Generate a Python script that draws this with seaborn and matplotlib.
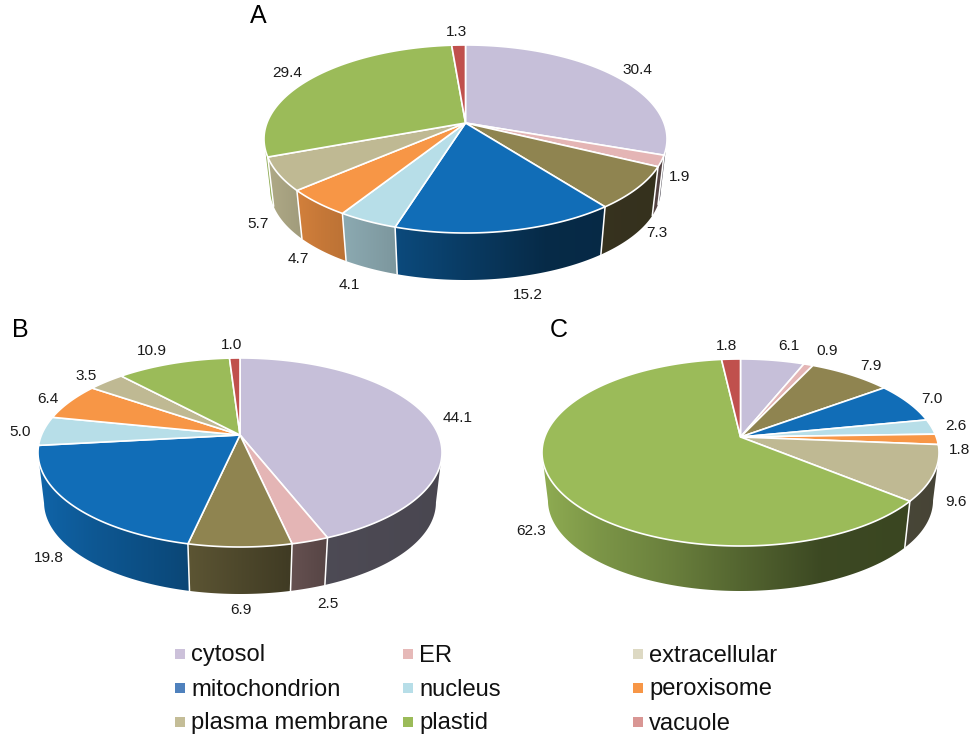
import numpy as np
import matplotlib
matplotlib.use('Agg')
import matplotlib.pyplot as plt
from matplotlib.patches import Rectangle, Polygon
import seaborn as sns

# Slices run clockwise from 12 o'clock, same order in all three pies
slice_names = ['cytosol', 'ER', 'extracellular', 'mitochondrion', 'nucleus',
               'peroxisome', 'plasma membrane', 'plastid', 'vacuole']
values_a = [30.4, 1.9, 7.3, 15.2, 4.1, 4.7, 5.7, 29.4, 1.3]
values_b = [44.1, 2.5, 6.9, 19.8, 5.0, 6.4, 3.5, 10.9, 1.0]
values_c = [6.1, 0.9, 7.9, 7.0, 2.6, 1.8, 9.6, 62.3, 1.8]

slice_colors = ['#C6BFD9', '#E4B5B5', '#8F8450', '#116DB7', '#B7DEE8',
                '#F79646', '#BFB993', '#9BBB59', '#C0504D']

legend_names = ['cytosol', 'ER', 'extracellular',
                'mitochondrion', 'nucleus', 'peroxisome',
                'plasma membrane', 'plastid', 'vacuole']
legend_colors = ['#CCC1DA', '#E6B9B8', '#DDD9C3',
                 '#4F81BD', '#B7DEE8', '#F79646',
                 '#C4BD97', '#9BBB59', '#D99694']

# label pixel positions (x, y), one per slice
labels_a = [(637, 70), (680, 177), (657, 233), (528, 295), (349, 285),
            (298, 259), (258, 224), (287, 73), (456, 32)]
labels_b = [(458, 418), (328, 604), (241, 610), (49, 558), (20, 432),
            (48, 399), (86, 376), (152, 351), (232, 345)]
labels_c = [(789, 346), (827, 351), (871, 366), (932, 399), (956, 426),
            (959, 450), (956, 502), (531, 531), (726, 346)]

sns.set_theme(style="white")
plt.rcParams['font.family'] = ['Liberation Sans', 'DejaVu Sans']

fig = plt.figure(figsize=(9.72, 7.37), dpi=100, facecolor='white')
ax = fig.add_axes([0, 0, 1, 1])
ax.set_xlim(0, 972)
ax.set_ylim(737, 0)
ax.axis('off')
ax.autoscale(False)


def shade(rel_x):
    # side wall goes dark from left to right
    return np.interp(rel_x, [-1, -0.72, -0.35, 0, 0.4, 1],
                     [0.92, 0.80, 0.68, 0.54, 0.39, 0.37])


def draw_pie(values, labels, cx, cy, rx, ry, apex_y, depth):
    # perspective disc: the apex sits above the centre of the outline
    c = cy - apex_y
    k = c / ry
    a = rx * np.sqrt(1 - k ** 2)
    shrink = 0.97
    drop = depth + ry * (1 - shrink)

    def project(t):
        u, v = np.sin(t), np.cos(t)
        w = 1 + k * v
        return a * u / w, (ry * v + c) / w

    vals = np.array(values, dtype=float)
    edges = np.concatenate([[0], np.cumsum(vals)]) / vals.sum() * 2 * np.pi
    palette = sns.color_palette(slice_colors)
    ramp = shade(np.linspace(-1, 1, 200))[None, :, None]

    # side walls first, a horizontal gradient clipped to each slice's wall
    for i, col in enumerate(palette):
        t = np.linspace(edges[i], edges[i + 1], max(int(vals[i] * 6), 12))
        x, y = project(t)
        front = y <= 0
        if front.sum() < 2:
            continue
        x, y = x[front], y[front]
        xs = np.concatenate([cx + x, cx + x[::-1] * shrink])
        ys = np.concatenate([cy - y, cy - y[::-1] * shrink + drop])
        im = ax.imshow(ramp * np.array(col)[None, None, :], aspect='auto',
                       extent=(cx - rx, cx + rx, cy + ry + depth + 2, cy - ry),
                       interpolation='bilinear', zorder=1)
        im.set_clip_path(Polygon(np.column_stack([xs, ys]), transform=ax.transData))

    # seams between the slices on the wall
    for e in edges[:-1]:
        x, y = project(e)
        if y < 0:
            ax.plot([cx + x, cx + x * shrink], [cy - y, cy - y * shrink + drop],
                    color='white', lw=1.1, zorder=2)

    # top face
    for i, col in enumerate(palette):
        t = np.linspace(edges[i], edges[i + 1], max(int(vals[i] * 6), 12))
        x, y = project(t)
        xs = np.concatenate([[cx], cx + x])
        ys = np.concatenate([[apex_y], cy - y])
        ax.fill(xs, ys, facecolor=col, edgecolor='white', linewidth=1.2,
                joinstyle='round', zorder=3)

    for v, (lx, ly) in zip(values, labels):
        ax.text(lx, ly, f'{v:.1f}', ha='center', va='center', fontsize=11.1,
                color='#1a1a1a', zorder=5)


draw_pie(values_a, labels_a, 465.5, 139, 201.5, 94, 123, 47)
draw_pie(values_b, labels_b, 240, 452.5, 202, 94.5, 435, 47)
draw_pie(values_c, labels_c, 740.5, 452.5, 198.5, 93.5, 437, 45)

# panel letters
for letter, px, py in [('A', 258, 16), ('B', 20, 330), ('C', 559, 330)]:
    ax.text(px, py, letter, ha='center', va='center', fontsize=18, color='black')

# legend, three columns
col_x = [175, 403, 633]
row_y = [654, 688, 722]
for i, (name, col) in enumerate(zip(legend_names, legend_colors)):
    lx = col_x[i % 3]
    ly = row_y[i // 3]
    ax.add_patch(Rectangle((lx, ly - 5), 10, 10, facecolor=col, edgecolor='none'))
    ax.text(lx + 16, ly + 7.5, name, ha='left', va='baseline', fontsize=17.1,
            color='#111111')

fig.savefig('out.png', dpi=100, facecolor='white')
